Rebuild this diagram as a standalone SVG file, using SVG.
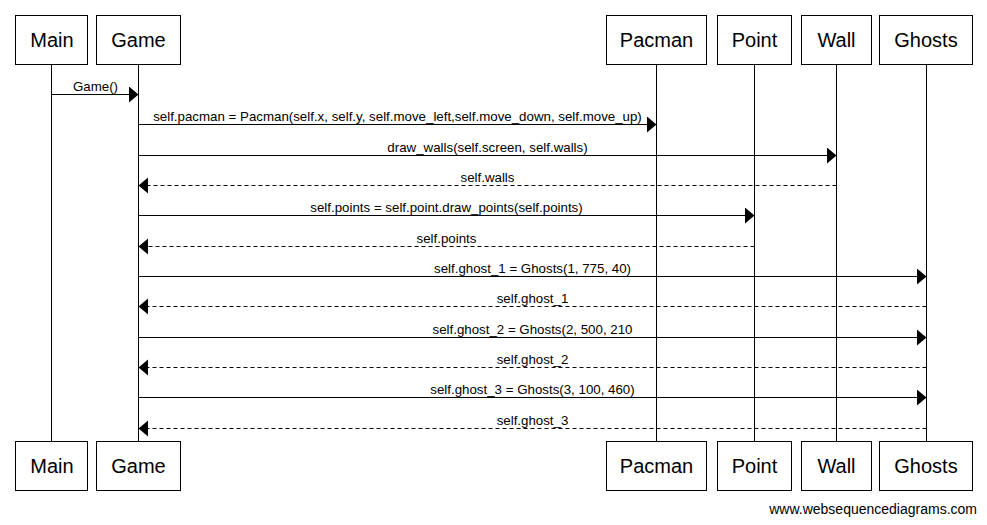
<svg xmlns="http://www.w3.org/2000/svg" width="987" height="525" viewBox="0 0 987 525">
<style>
.box{fill:#fff;stroke:#000;stroke-width:1}
.life{stroke:#000;stroke-width:1}
.name{font-family:"Liberation Sans",Arial,sans-serif;font-size:20px;text-anchor:middle;fill:#000}
.msg{stroke:#000;stroke-width:1;marker-end:url(#ah)}
.ret{stroke:#000;stroke-width:1;stroke-dasharray:4,3;marker-end:url(#ah)}
.lbl{font-family:"Liberation Sans",Arial,sans-serif;font-size:13.3px;text-anchor:middle;fill:#000}
.wm{font-family:"Liberation Sans",Arial,sans-serif;font-size:14px;text-anchor:end;fill:#000}
</style>
<defs>
<marker id="ah" markerUnits="userSpaceOnUse" markerWidth="11" markerHeight="17" refX="9.5" refY="8" orient="auto">
<path d="M0,0 L9.5,8 L0,16 z" fill="#000" stroke="none"/>
</marker>
</defs>
<rect width="987" height="525" fill="#fff"/>
<g id="lifelines">
<line class="life" x1="51.5" y1="64" x2="51.5" y2="441"/>
<line class="life" x1="138.5" y1="64" x2="138.5" y2="441"/>
<line class="life" x1="656.5" y1="64" x2="656.5" y2="441"/>
<line class="life" x1="754.5" y1="64" x2="754.5" y2="441"/>
<line class="life" x1="836.5" y1="64" x2="836.5" y2="441"/>
<line class="life" x1="926.5" y1="64" x2="926.5" y2="441"/>
</g>
<g id="node-main">
<rect class="box" x="15.5" y="15.5" width="72" height="49"/>
<text class="name" x="52" y="47">Main</text>
<rect class="box" x="15.5" y="441.5" width="72" height="49"/>
<text class="name" x="52" y="473">Main</text>
</g>
<g id="node-game">
<rect class="box" x="96.5" y="15.5" width="84" height="49"/>
<text class="name" x="138.5" y="47">Game</text>
<rect class="box" x="96.5" y="441.5" width="84" height="49"/>
<text class="name" x="138.5" y="473">Game</text>
</g>
<g id="node-pacman">
<rect class="box" x="606.5" y="15.5" width="100" height="49"/>
<text class="name" x="656.5" y="47">Pacman</text>
<rect class="box" x="606.5" y="441.5" width="100" height="49"/>
<text class="name" x="656.5" y="473">Pacman</text>
</g>
<g id="node-point">
<rect class="box" x="717.5" y="15.5" width="74" height="49"/>
<text class="name" x="754.5" y="47">Point</text>
<rect class="box" x="717.5" y="441.5" width="74" height="49"/>
<text class="name" x="754.5" y="473">Point</text>
</g>
<g id="node-wall">
<rect class="box" x="801.5" y="15.5" width="70" height="49"/>
<text class="name" x="836.5" y="47">Wall</text>
<rect class="box" x="801.5" y="441.5" width="70" height="49"/>
<text class="name" x="836.5" y="473">Wall</text>
</g>
<g id="node-ghosts">
<rect class="box" x="879.5" y="15.5" width="93" height="49"/>
<text class="name" x="926" y="47">Ghosts</text>
<rect class="box" x="879.5" y="441.5" width="93" height="49"/>
<text class="name" x="926" y="473">Ghosts</text>
</g>
<g id="connectors">
<line class="msg" x1="51.5" y1="94.5" x2="138.5" y2="94.5"/>
<text class="lbl" x="95.5" y="90.5">Game()</text>
<line class="msg" x1="138.5" y1="124.5" x2="656.5" y2="124.5"/>
<text class="lbl" x="397.5" y="120.5">self.pacman = Pacman(self.x, self.y, self.move_left,self.move_down, self.move_up)</text>
<line class="msg" x1="138.5" y1="155.5" x2="836.5" y2="155.5"/>
<text class="lbl" x="487.5" y="151.5">draw_walls(self.screen, self.walls)</text>
<line class="ret" x1="836.5" y1="185.5" x2="138.5" y2="185.5"/>
<text class="lbl" x="487.5" y="181.5">self.walls</text>
<line class="msg" x1="138.5" y1="215.5" x2="754.5" y2="215.5"/>
<text class="lbl" x="446.5" y="211.5">self.points = self.point.draw_points(self.points)</text>
<line class="ret" x1="754.5" y1="246.5" x2="138.5" y2="246.5"/>
<text class="lbl" x="446.5" y="242.5">self.points</text>
<line class="msg" x1="138.5" y1="276.5" x2="926.5" y2="276.5"/>
<text class="lbl" x="532.5" y="272.5">self.ghost_1 = Ghosts(1, 775, 40)</text>
<line class="ret" x1="926.5" y1="306.5" x2="138.5" y2="306.5"/>
<text class="lbl" x="532.5" y="302.5">self.ghost_1</text>
<line class="msg" x1="138.5" y1="337.5" x2="926.5" y2="337.5"/>
<text class="lbl" x="532.5" y="333.5">self.ghost_2 = Ghosts(2, 500, 210</text>
<line class="ret" x1="926.5" y1="367.5" x2="138.5" y2="367.5"/>
<text class="lbl" x="532.5" y="363.5">self.ghost_2</text>
<line class="msg" x1="138.5" y1="397.5" x2="926.5" y2="397.5"/>
<text class="lbl" x="532.5" y="393.5">self.ghost_3 = Ghosts(3, 100, 460)</text>
<line class="ret" x1="926.5" y1="428.5" x2="138.5" y2="428.5"/>
<text class="lbl" x="532.5" y="424.5">self.ghost_3</text>
</g>
<text class="wm" x="977" y="514">www.websequencediagrams.com</text>
</svg>
